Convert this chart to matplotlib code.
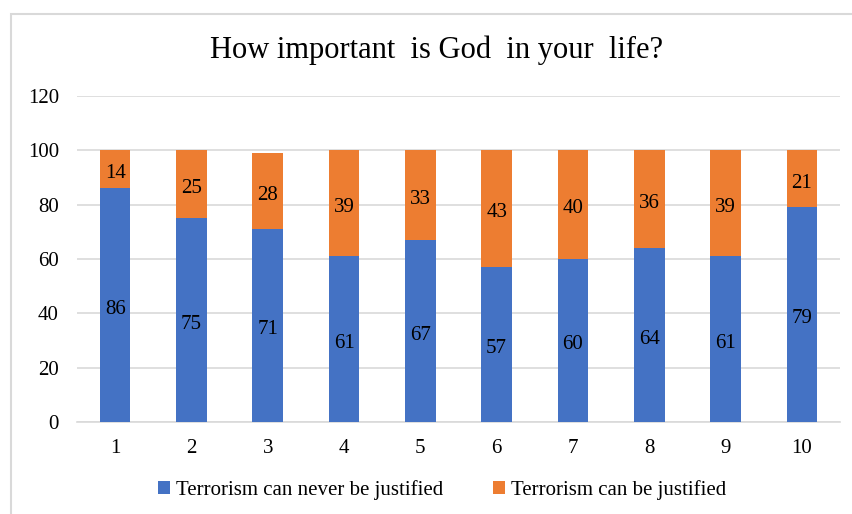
import numpy as np
import matplotlib
matplotlib.use('Agg')
import matplotlib.pyplot as plt
from matplotlib.patches import Rectangle

# data
categories = ['1', '2', '3', '4', '5', '6', '7', '8', '9', '10']
never_justified = [86, 75, 71, 61, 67, 57, 60, 64, 61, 79]
can_justified = [14, 25, 28, 39, 33, 43, 40, 36, 39, 21]
series_names = ['Terrorism can never be justified', 'Terrorism can be justified']

plt.rcParams['font.family'] = ['Liberation Serif', 'DejaVu Serif']

fig = plt.figure(figsize=(8.53, 5.14), dpi=100)
fig.patch.set_facecolor('white')

# outer chart border (cropped on right/bottom)
fig.patches.append(Rectangle((11/853, -0.1), 1.2, 1 - 14/514 + 0.1,
                             transform=fig.transFigure, fill=False,
                             edgecolor='#d9d9d9', linewidth=1.5))

ax = fig.add_axes([77/853, 1 - 422/514, 763/853, (422 - 96)/514])
x = np.arange(len(categories))
w = 0.40
b1 = ax.bar(x, never_justified, w, color='#4472C4', label=series_names[0], zorder=3)
b2 = ax.bar(x, can_justified, w, bottom=never_justified, color='#ED7D31',
            label=series_names[1], zorder=3)

for bars in (b1, b2):
    ax.bar_label(bars, label_type='center', fontsize=15, color='black', padding=-3)

ax.set_xlim(-0.5, len(categories) - 0.5)
ax.set_ylim(0, 120)
ax.set_yticks(range(0, 121, 20))
ax.set_xticks(x)
ax.set_xticklabels(categories)
ax.yaxis.grid(True, color='#d9d9d9', linewidth=1.2, zorder=0)
ax.set_axisbelow(True)
for s in ['top', 'right', 'left']:
    ax.spines[s].set_visible(False)
ax.spines['bottom'].set_color('#d9d9d9')
ax.spines['bottom'].set_linewidth(1.2)
ax.tick_params(axis='both', length=0, labelsize=15)
ax.tick_params(axis='y', pad=13)
ax.tick_params(axis='x', pad=12)

fig.text(0.512, 1 - 50/514, 'How important  is God  in your  life?', ha='center', va='center',
         fontsize=22, color='black')

fig.legend(handles=[b1, b2], loc='center', bbox_to_anchor=(0.518, 1 - 490/514),
           ncol=2, frameon=False, fontsize=15, handlelength=0.6, handleheight=0.6,
           handletextpad=0.25, columnspacing=2.4)

plt.savefig('out.png', dpi=100)
